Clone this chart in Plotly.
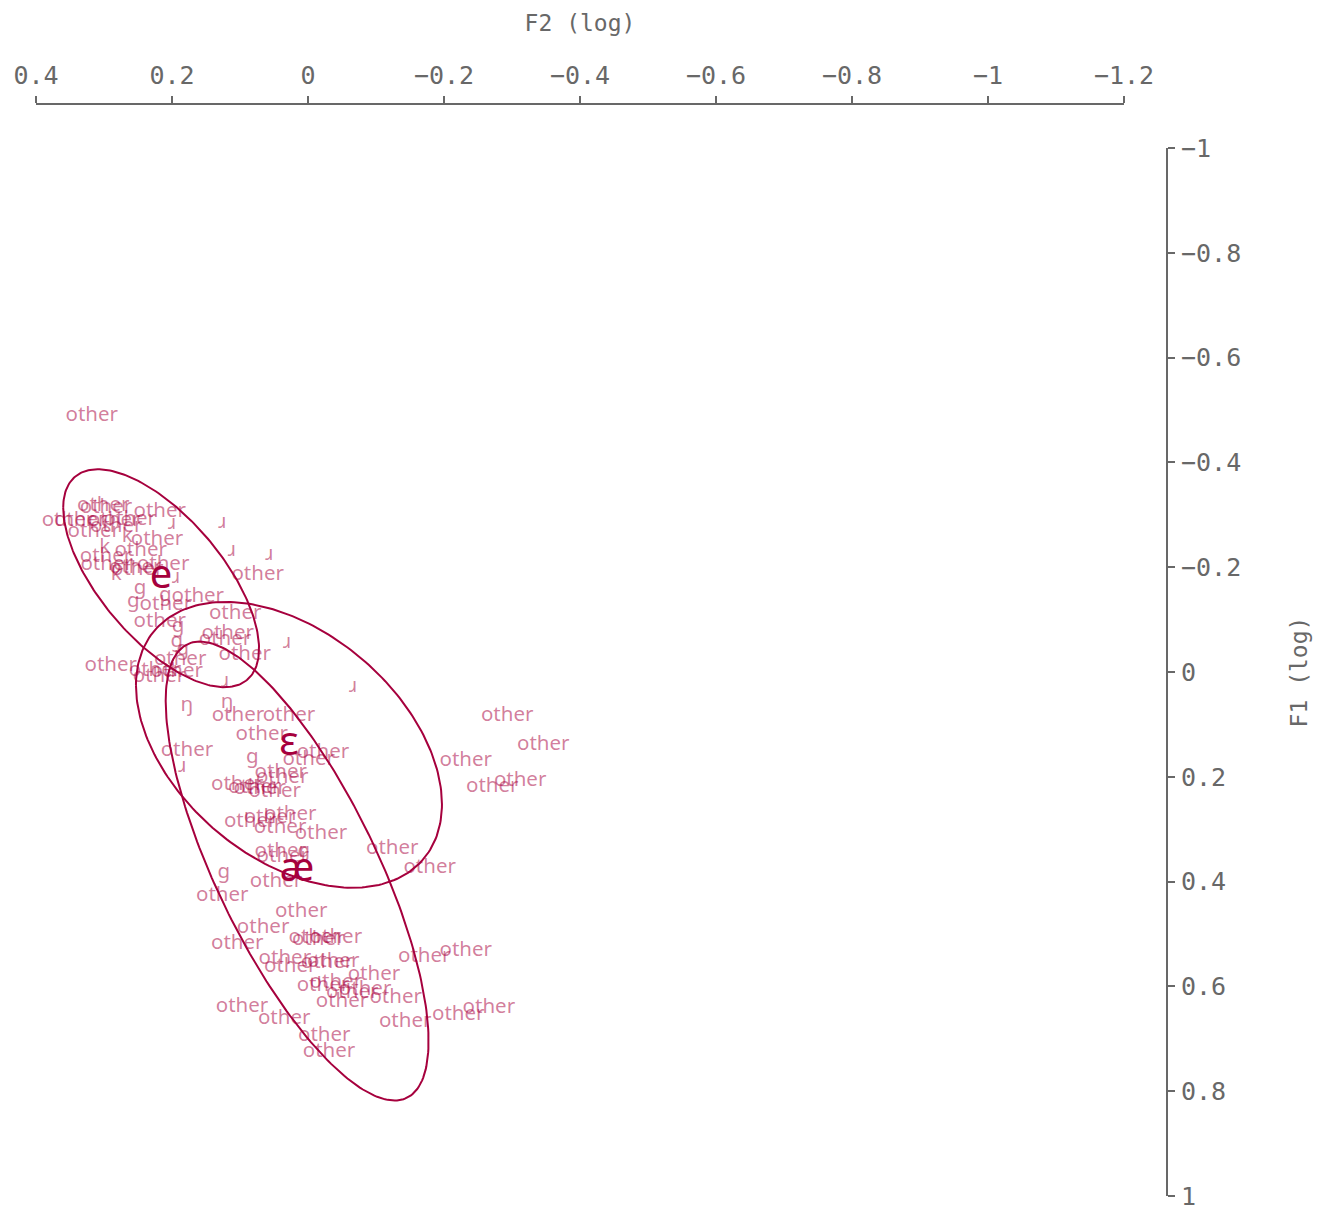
import numpy as np
import plotly.graph_objects as go

# Token measurements: normalised log formants (F2 horizontal, F1 vertical)
token_labels = [
    "other", "other", "other", "other", "other", "other", "other", "other", "other", "ɹ",
    "ɹ", "other", "k", "other", "k", "other", "other", "other", "other", "other",
    "other", "k", "ɹ", "ɹ", "ɹ", "other", "g", "g", "g", "other",
    "other", "other", "other", "g", "g", "g", "other", "other", "ɹ", "other",
    "other", "other", "other", "other", "other", "ɹ", "ŋ", "ŋ", "ɹ", "other",
    "other", "other", "other", "other", "other", "g", "ɹ", "other", "other", "other",
    "other", "other", "other", "other", "other", "other", "other", "other", "other", "other",
    "g", "other", "other", "g", "other", "other", "other", "other", "other", "other",
    "other", "other", "other", "other", "other", "other", "other", "other", "other", "other",
    "other", "other", "other", "other", "other", "other", "other", "other", "other", "other",
    "other", "other", "other", "other", "other", "other", "other",
]
token_f2 = [
    0.318, 0.301, 0.297, 0.218, 0.353, 0.335, 0.285, 0.262, 0.282, 0.200,
    0.126, 0.315, 0.266, 0.222, 0.299, 0.246, 0.297, 0.296, 0.213, 0.254,
    0.251, 0.282, 0.194, 0.112, 0.057, 0.074, 0.247, 0.257, 0.210, 0.162,
    0.209, 0.218, 0.107, 0.191, 0.193, 0.184, 0.118, 0.122, 0.031, 0.093,
    0.290, 0.188, 0.193, 0.219, 0.225, 0.122, 0.178, 0.119, -0.066, 0.103,
    0.028, 0.068, 0.178, -0.022, -0.001, 0.082, 0.185, 0.040, 0.038, 0.104,
    0.079, 0.049, 0.071, 0.026, 0.056, 0.085, 0.041, -0.019, 0.040, 0.037,
    0.006, -0.124, -0.179, 0.124, 0.047, 0.126, 0.010, 0.066, 0.104, -0.010,
    -0.015, -0.041, -0.232, -0.171, 0.034, 0.026, -0.028, -0.037, -0.097, -0.022,
    -0.041, -0.084, -0.065, -0.050, -0.129, -0.143, -0.221, -0.266, 0.097, 0.035,
    -0.024, -0.031, -0.293, -0.346, -0.232, -0.312, -0.271,
]
token_f1 = [
    -0.489, -0.317, -0.313, -0.305, -0.288, -0.288, -0.288, -0.290, -0.277, -0.282,
    -0.284, -0.267, -0.258, -0.252, -0.237, -0.231, -0.219, -0.204, -0.204, -0.198,
    -0.195, -0.185, -0.179, -0.231, -0.223, -0.185, -0.158, -0.134, -0.145, -0.143,
    -0.128, -0.095, -0.111, -0.086, -0.057, -0.042, -0.073, -0.061, -0.055, -0.032,
    -0.011, -0.023, 0.000, 0.010, -0.002, 0.019, 0.065, 0.059, 0.029, 0.084,
    0.084, 0.120, 0.151, 0.155, 0.168, 0.164, 0.181, 0.193, 0.202, 0.216,
    0.221, 0.229, 0.223, 0.273, 0.279, 0.286, 0.298, 0.309, 0.344, 0.353,
    0.344, 0.338, 0.374, 0.384, 0.401, 0.427, 0.458, 0.489, 0.519, 0.508,
    0.511, 0.508, 0.532, 0.544, 0.548, 0.563, 0.555, 0.553, 0.578, 0.599,
    0.594, 0.607, 0.613, 0.630, 0.622, 0.668, 0.655, 0.641, 0.639, 0.662,
    0.695, 0.725, 0.084, 0.139, 0.170, 0.208, 0.219,
]

# Vowel category means and spread (sd of F2, sd of F1, correlation)
vowels = ["e", "ɛ", "æ"]
vowel_f2 = [0.216, 0.028, 0.016]
vowel_f1 = [-0.179, 0.139, 0.380]
vowel_sd_f2 = [0.1440, 0.2250, 0.1933]
vowel_sd_f1 = [0.2080, 0.2729, 0.4381]
vowel_corr = [-0.646, -0.416, -0.741]

DARK = "#a6003d"
TOKEN = "rgba(168,0,62,0.52)"
AXIS = "#686868"

fig = go.Figure()

# Spread ellipses built from each vowel's covariance
t = np.linspace(0, 2 * np.pi, 241)
for cx, cy, sx, sy, r in zip(vowel_f2, vowel_f1, vowel_sd_f2, vowel_sd_f1, vowel_corr):
    ex = cx + sx * np.cos(t)
    ey = cy + sy * (r * np.cos(t) + np.sqrt(1 - r * r) * np.sin(t))
    fig.add_trace(go.Scatter(
        x=ex, y=ey, mode="lines",
        line=dict(color=DARK, width=2),
        hoverinfo="skip", showlegend=False,
    ))

# Individual tokens, labelled by following segment
fig.add_trace(go.Scatter(
    x=token_f2, y=token_f1, mode="text", text=token_labels,
    textposition="middle center",
    textfont=dict(family="Noto Sans", size=20.5, color=TOKEN),
    showlegend=False,
))

# Vowel labels at the category means
fig.add_trace(go.Scatter(
    x=vowel_f2, y=vowel_f1, mode="text", text=vowels,
    textposition="middle center",
    textfont=dict(family="Noto Sans", size=40, color=DARK),
    showlegend=False,
))

tick_font = dict(family="DejaVu Sans Mono", size=25, color=AXIS)
title_font = dict(family="DejaVu Sans Mono", size=23, color=AXIS)

fig.update_layout(
    width=1324, height=1209,
    margin=dict(l=36, r=157, t=104, b=13, autoexpand=False),
    paper_bgcolor="white", plot_bgcolor="white",
    xaxis=dict(
        domain=[0, 1088 / 1131], range=[0.4, -1.2],
        side="top", anchor="free", position=1, automargin=False,
        tickvals=[0.4, 0.2, 0, -0.2, -0.4, -0.6, -0.8, -1, -1.2],
        ticks="outside", ticklen=7, tickwidth=2, tickcolor=AXIS,
        showline=True, linecolor=AXIS, linewidth=2,
        showgrid=False, zeroline=False,
        tickfont=tick_font, ticklabelstandoff=2, ticklabeloverflow="allow",
        title=dict(text="F2 (log)", font=title_font, standoff=22),
    ),
    yaxis=dict(
        domain=[0, 1048 / 1092], range=[1.0004, -1.0004],
        side="right", anchor="free", position=1, automargin=False,
        tickvals=[-1, -0.8, -0.6, -0.4, -0.2, 0, 0.2, 0.4, 0.6, 0.8, 1],
        ticks="outside", ticklen=7, tickwidth=2, tickcolor=AXIS,
        showline=True, linecolor=AXIS, linewidth=2,
        showgrid=False, zeroline=False,
        tickfont=tick_font, ticklabelstandoff=1, ticklabeloverflow="allow",
        title=dict(text="F1 (log)", font=title_font, standoff=50),
    ),
)

fig.write_html("out.html")
